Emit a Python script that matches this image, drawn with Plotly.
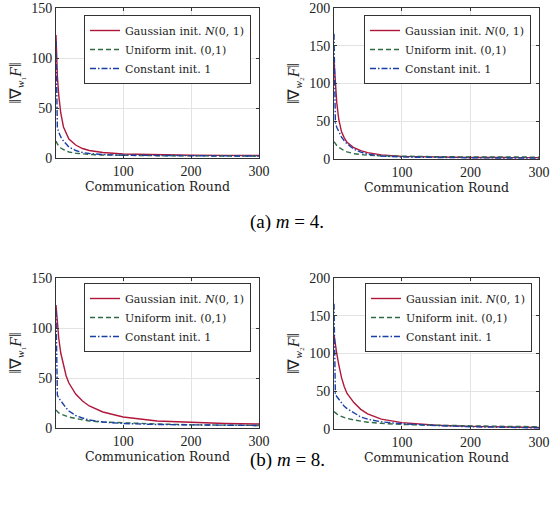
import plotly.graph_objects as go

rounds = [1, 2, 3, 5, 8, 12, 16, 20, 30, 40, 50, 70, 100, 150, 200, 250, 300]

# (a) m = 4, w1
a1_gauss = [123, 100, 82, 63, 45, 31, 24, 19, 13, 9.5, 7.5, 5.5, 4, 3.2, 2.8, 2.6, 2.5]
a1_unif = [17, 15, 14, 12, 10, 8.5, 7, 6, 4.8, 4, 3.5, 3, 2.6, 2.3, 2.1, 2, 2]
a1_const = [117, 60, 30, 26, 21, 17, 14, 11, 7.5, 5.5, 4.5, 3.5, 2.8, 2.4, 2.2, 2.1, 2]
# (a) m = 4, w2
a2_gauss = [130, 115, 100, 75, 52, 36, 28, 22, 15, 11, 8.5, 5.5, 3.5, 2.5, 2, 1.9, 1.8]
a2_unif = [23, 21.5, 20, 18, 15.5, 13, 11, 9.5, 7, 6, 5, 4.2, 3.5, 3, 2.8, 2.6, 2.5]
a2_const = [166, 100, 48, 42, 36, 29, 24, 20, 13, 9, 6.5, 4, 2.5, 1.8, 1.5, 1.3, 1.2]
# (b) m = 8, w1
b1_gauss = [123, 113, 105, 90, 75, 62, 52, 45, 34, 27, 22, 16, 11, 7, 5.5, 4.5, 4]
b1_unif = [18, 17, 16, 15, 14, 13, 12, 11, 9.5, 8, 7, 6, 5, 4, 3.2, 2.8, 2.5]
b1_const = [117, 60, 33, 30, 27, 23, 20, 17, 12.5, 10, 8, 6, 4.5, 3.5, 3, 2.7, 2.5]
# (b) m = 8, w2
b2_gauss = [125, 118, 112, 100, 85, 68, 56, 47, 35, 26, 20, 13, 8.5, 5, 3.5, 2.5, 2]
b2_unif = [23, 22, 21, 20, 18, 16.5, 15, 14, 12, 10.5, 9, 7.5, 6, 5, 4, 3.5, 3]
b2_const = [166, 90, 46, 43, 39, 34, 30, 27, 21, 16, 13, 9.5, 7, 4.5, 3, 2, 1.5]

names = ["Gaussian init. <i>N</i>(0, 1)", "Uniform init. (0,1)", "Constant init. 1"]
ytitles = ["‖∇<sub><i>w</i>₁</sub><i>F</i>‖", "‖∇<sub><i>w</i>₂</sub><i>F</i>‖",
           "‖∇<sub><i>w</i>₁</sub><i>F</i>‖", "‖∇<sub><i>w</i>₂</sub><i>F</i>‖"]
yticks = [[0, 50, 100, 150], [0, 50, 100, 150, 200], [0, 50, 100, 150], [0, 50, 100, 150, 200]]
yranges = [[0, 150], [0, 200], [0, 150], [0, 200]]
captions = ["(a) <i>m</i> = 4.", "(b) <i>m</i> = 8."]

panels = [(a1_gauss, a1_unif, a1_const), (a2_gauss, a2_unif, a2_const),
          (b1_gauss, b1_unif, b1_const), (b2_gauss, b2_unif, b2_const)]

W, H = 556, 505
# pixel boxes (left, right, top, bottom)
boxes = [(56, 259, 8, 158), (334, 539, 8, 159), (56, 259, 278, 428), (334, 539, 278, 429)]
legboxes = [(251, 15), (531, 15), (251, 283), (532, 283)]

colors = ["#B0173A", "#2E6B46", "#1B3FA6"]
dashes = ["solid", "5px,3px", "6px,2px,1.5px,2px"]
serif = "Liberation Serif"
dserif = "DejaVu Serif"
txtc = "#222222"

fig = go.Figure()
layout = dict(width=W, height=H, margin=dict(l=0, r=0, t=0, b=0, autoexpand=False),
              plot_bgcolor="white", paper_bgcolor="white", showlegend=True,
              font=dict(family=serif, size=13, color=txtc))

for i, (series, box, lb) in enumerate(zip(panels, boxes, legboxes)):
    k = "" if i == 0 else str(i + 1)
    leg = "legend" + k
    for s, name, c, d in zip(series, names, colors, dashes):
        fig.add_trace(go.Scatter(x=rounds, y=s, mode="lines", name=name,
                                 line=dict(color=c, dash=d, width=1.4),
                                 xaxis="x" + k, yaxis="y" + k, legend=leg))
    l, r, t, b = box
    axcommon = dict(showline=True, mirror="ticks", linecolor="#333333", linewidth=1,
                    ticks="inside", ticklen=3, tickcolor="#333333", automargin=False,
                    showgrid=True, gridcolor="#E3E3E3", gridwidth=1, zeroline=False,
                    tickfont=dict(family=serif, size=14, color=txtc))
    layout["xaxis" + k] = dict(domain=[l / W, r / W], range=[1, 300],
                               tickvals=[100, 200, 300], anchor="y" + k,
                               title=dict(text="Communication Round", standoff=1,
                                          font=dict(family=dserif, size=12.5, color=txtc)),
                               **axcommon)
    layout["yaxis" + k] = dict(domain=[1 - b / H, 1 - t / H], range=yranges[i],
                               tickvals=yticks[i], anchor="x" + k,
                               title=dict(text=ytitles[i], standoff=5,
                                          font=dict(family=serif, size=16, color=txtc)),
                               **axcommon)
    layout[leg] = dict(x=lb[0] / W, y=1 - lb[1] / H, xanchor="right", yanchor="top",
                       bgcolor="white", bordercolor="#333333", borderwidth=1,
                       font=dict(family=dserif, size=11, color=txtc),
                       tracegroupgap=0, itemwidth=30)

fig.update_layout(**layout)
for cap, yp in zip(captions, [222, 473]):
    fig.add_annotation(text=cap, x=287 / W, y=1 - yp / H, xref="paper", yref="paper",
                       showarrow=False, font=dict(family=serif, size=19, color="black"))

fig.write_html("out.html", config={"displayModeBar": False},
               post_script="document.body.style.margin='0';document.body.style.overflow='hidden';")
